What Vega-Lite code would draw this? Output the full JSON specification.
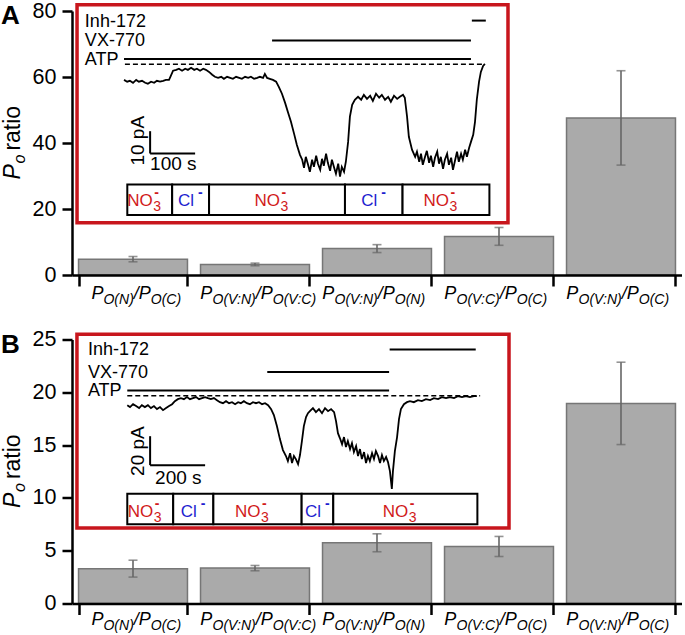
{
"$schema": "https://vega.github.io/schema/vega-lite/v6.json",
"padding": {"left": 0, "top": 0, "right": 0, "bottom": 0},
"spacing": 21.5,
"config": {"font": "Liberation Sans", "view": {"stroke": null}, "axis": {"grid": false}},
"datasets": {
"barsA": [
{"cat": "N/C", "s1": "O(N)", "s2": "O(C)", "v": 4.8, "e": 0.8},
{"cat": "VN/VC", "s1": "O(V:N)", "s2": "O(V:C)", "v": 3.2, "e": 0.4},
{"cat": "VN/N", "s1": "O(V:N)", "s2": "O(N)", "v": 8.0, "e": 1.2},
{"cat": "VC/C", "s1": "O(V:C)", "s2": "O(C)", "v": 11.7, "e": 2.7},
{"cat": "VN/C", "s1": "O(V:N)", "s2": "O(C)", "v": 47.6, "e": 14.3}],
"barsB": [
{"cat": "N/C", "s1": "O(N)", "s2": "O(C)", "v": 3.3, "e": 0.8},
{"cat": "VN/VC", "s1": "O(V:N)", "s2": "O(V:C)", "v": 3.35, "e": 0.25},
{"cat": "VN/N", "s1": "O(V:N)", "s2": "O(N)", "v": 5.75, "e": 0.85},
{"cat": "VC/C", "s1": "O(V:C)", "s2": "O(C)", "v": 5.4, "e": 0.95},
{"cat": "VN/C", "s1": "O(V:N)", "s2": "O(C)", "v": 18.95, "e": 3.9}],
"drugsA": [
{"drug": "ATP", "t": 0, "t2": 771, "I": 2.4},
{"drug": "VX-770", "t": 329, "t2": 771, "I": 10.7},
{"drug": "Inh-172", "t": 773, "t2": 804, "I": 19.6}],
"drugsB": [
{"drug": "ATP", "t": 0, "t2": 952, "I": 3.6},
{"drug": "VX-770", "t": 509, "t2": 952, "I": 16.4},
{"drug": "Inh-172", "t": 954, "t2": 1267, "I": 31.9}],
"scaleA": [{"t": 58, "t2": 58, "I": -30, "I2": -40}, {"t": 58, "t2": 158, "I": -40, "I2": -40}],
"scaleB": [{"t": 83, "t2": 83, "I": -28, "I2": -48}, {"t": 83, "t2": 283, "I": -48, "I2": -48}],
"boxesA": [
{"ion": "NO3", "t": 7.3, "t2": 107, "mid": 57, "I": -53.9, "I2": -67.6, "Ic": -60.75},
{"ion": "Cl", "t": 107, "t2": 189, "mid": 148, "I": -53.9, "I2": -67.6, "Ic": -60.75},
{"ion": "NO3", "t": 189, "t2": 491, "mid": 340, "I": -53.9, "I2": -67.6, "Ic": -60.75},
{"ion": "Cl", "t": 491, "t2": 619, "mid": 555, "I": -53.9, "I2": -67.6, "Ic": -60.75},
{"ion": "NO3", "t": 619, "t2": 812, "mid": 715.5, "I": -53.9, "I2": -67.6, "Ic": -60.75}],
"boxesB": [
{"ion": "NO3", "t": 0, "t2": 167, "mid": 83.5, "I": -67.7, "I2": -88.8, "Ic": -78.25},
{"ion": "Cl", "t": 167, "t2": 313, "mid": 240, "I": -67.7, "I2": -88.8, "Ic": -78.25},
{"ion": "NO3", "t": 313, "t2": 634, "mid": 473.5, "I": -67.7, "I2": -88.8, "Ic": -78.25},
{"ion": "Cl", "t": 634, "t2": 749, "mid": 691.5, "I": -67.7, "I2": -88.8, "Ic": -78.25},
{"ion": "NO3", "t": 749, "t2": 1273, "mid": 1011, "I": -67.7, "I2": -88.8, "Ic": -78.25}],
"traceA": [
{"t":0,"I":-7.0},{"t":7,"I":-7.8},{"t":13,"I":-7.4},{"t":20,"I":-8.3},{"t":27,"I":-7.0},{"t":33,"I":-7.8},{"t":40,"I":-7.4},{"t":47,"I":-8.3},{"t":53,"I":-8.7},{"t":60,"I":-7.8},{"t":67,"I":-8.3},{"t":73,"I":-7.4},{"t":80,"I":-7.8},{"t":87,"I":-7.4},{"t":93,"I":-7.0},{"t":100,"I":-7.0},{"t":104,"I":-5.2},{"t":109,"I":-2.9},{"t":116,"I":-2.5},{"t":122,"I":-2.0},{"t":129,"I":-2.9},{"t":136,"I":-2.0},{"t":142,"I":-2.5},{"t":149,"I":-1.6},{"t":156,"I":-2.5},{"t":162,"I":-2.0},{"t":169,"I":-2.9},{"t":176,"I":-2.0},{"t":182,"I":-2.5},{"t":189,"I":-3.4},{"t":196,"I":-4.7},{"t":202,"I":-5.6},{"t":209,"I":-6.1},{"t":216,"I":-5.6},{"t":222,"I":-6.5},{"t":229,"I":-5.6},{"t":236,"I":-6.1},{"t":242,"I":-6.5},{"t":249,"I":-5.6},{"t":256,"I":-6.1},{"t":262,"I":-6.5},{"t":269,"I":-5.6},{"t":276,"I":-6.1},{"t":282,"I":-5.6},{"t":289,"I":-6.5},{"t":296,"I":-6.1},{"t":302,"I":-5.6},{"t":309,"I":-6.1},{"t":313,"I":-4.3},{"t":318,"I":-6.1},{"t":324,"I":-6.5},{"t":331,"I":-7.0},{"t":338,"I":-7.8},{"t":344,"I":-10.1},{"t":351,"I":-13.2},{"t":358,"I":-17.3},{"t":364,"I":-21.3},{"t":371,"I":-25.8},{"t":378,"I":-31.2},{"t":384,"I":-36.1},{"t":391,"I":-40.6},{"t":396,"I":-42.8},{"t":400,"I":-46.4},{"t":404,"I":-41.5},{"t":409,"I":-45.1},{"t":413,"I":-48.2},{"t":418,"I":-42.8},{"t":422,"I":-46.0},{"t":427,"I":-41.0},{"t":431,"I":-44.6},{"t":436,"I":-47.3},{"t":440,"I":-42.4},{"t":444,"I":-45.5},{"t":449,"I":-40.1},{"t":453,"I":-44.2},{"t":458,"I":-47.8},{"t":462,"I":-42.8},{"t":467,"I":-46.4},{"t":471,"I":-49.1},{"t":476,"I":-44.6},{"t":480,"I":-50.4},{"t":484,"I":-46.0},{"t":489,"I":-48.2},{"t":493,"I":-43.7},{"t":498,"I":-34.8},{"t":502,"I":-23.5},{"t":507,"I":-18.2},{"t":513,"I":-15.9},{"t":520,"I":-14.6},{"t":527,"I":-15.9},{"t":533,"I":-13.7},{"t":540,"I":-15.5},{"t":547,"I":-14.1},{"t":553,"I":-16.4},{"t":560,"I":-13.2},{"t":567,"I":-15.0},{"t":573,"I":-13.7},{"t":580,"I":-15.9},{"t":587,"I":-14.6},{"t":593,"I":-16.8},{"t":600,"I":-14.1},{"t":607,"I":-15.5},{"t":613,"I":-14.6},{"t":620,"I":-13.7},{"t":624,"I":-15.0},{"t":629,"I":-23.5},{"t":633,"I":-32.5},{"t":640,"I":-38.3},{"t":647,"I":-41.5},{"t":651,"I":-39.2},{"t":656,"I":-43.7},{"t":660,"I":-40.1},{"t":664,"I":-45.1},{"t":669,"I":-41.5},{"t":673,"I":-38.8},{"t":678,"I":-44.2},{"t":682,"I":-41.0},{"t":687,"I":-46.0},{"t":691,"I":-41.9},{"t":696,"I":-39.2},{"t":700,"I":-44.6},{"t":704,"I":-41.5},{"t":709,"I":-46.9},{"t":713,"I":-42.8},{"t":718,"I":-40.1},{"t":722,"I":-45.1},{"t":727,"I":-41.9},{"t":731,"I":-47.3},{"t":736,"I":-42.8},{"t":740,"I":-39.2},{"t":744,"I":-43.7},{"t":749,"I":-40.1},{"t":753,"I":-42.8},{"t":758,"I":-38.3},{"t":762,"I":-41.5},{"t":767,"I":-37.4},{"t":771,"I":-34.8},{"t":776,"I":-31.6},{"t":780,"I":-25.8},{"t":784,"I":-15.9},{"t":789,"I":-7.8},{"t":793,"I":-3.4},{"t":798,"I":-0.7},{"t":802,"I":0.2}],
"traceB": [
{"t":0,"I":-6.6},{"t":10,"I":-7.9},{"t":21,"I":-5.9},{"t":32,"I":-7.2},{"t":43,"I":-8.6},{"t":53,"I":-6.6},{"t":64,"I":-7.9},{"t":75,"I":-6.6},{"t":86,"I":-8.6},{"t":97,"I":-7.2},{"t":108,"I":-9.3},{"t":119,"I":-7.9},{"t":130,"I":-10.0},{"t":141,"I":-8.6},{"t":152,"I":-7.2},{"t":163,"I":-5.9},{"t":173,"I":-3.8},{"t":184,"I":-2.4},{"t":195,"I":-1.7},{"t":206,"I":-2.4},{"t":217,"I":-1.0},{"t":228,"I":-2.4},{"t":239,"I":-1.7},{"t":250,"I":-1.0},{"t":261,"I":-2.4},{"t":272,"I":-1.7},{"t":283,"I":-1.0},{"t":293,"I":-1.7},{"t":304,"I":-2.4},{"t":315,"I":-1.7},{"t":326,"I":-3.1},{"t":337,"I":-4.5},{"t":348,"I":-5.2},{"t":359,"I":-3.8},{"t":370,"I":-5.2},{"t":381,"I":-4.5},{"t":392,"I":-5.9},{"t":403,"I":-4.5},{"t":413,"I":-5.2},{"t":424,"I":-3.8},{"t":435,"I":-5.2},{"t":446,"I":-5.9},{"t":457,"I":-4.5},{"t":468,"I":-5.2},{"t":479,"I":-4.5},{"t":490,"I":-5.9},{"t":501,"I":-5.2},{"t":512,"I":-6.6},{"t":523,"I":-9.3},{"t":533,"I":-13.4},{"t":544,"I":-21.0},{"t":555,"I":-30.0},{"t":566,"I":-37.6},{"t":577,"I":-41.7},{"t":584,"I":-45.2},{"t":592,"I":-39.7},{"t":599,"I":-46.6},{"t":606,"I":-41.7},{"t":613,"I":-43.8},{"t":621,"I":-47.3},{"t":628,"I":-41.0},{"t":635,"I":-31.4},{"t":642,"I":-21.0},{"t":650,"I":-14.8},{"t":657,"I":-12.1},{"t":664,"I":-10.7},{"t":675,"I":-8.6},{"t":686,"I":-11.4},{"t":697,"I":-9.3},{"t":708,"I":-12.1},{"t":719,"I":-8.6},{"t":730,"I":-10.7},{"t":741,"I":-9.3},{"t":752,"I":-11.4},{"t":759,"I":-17.6},{"t":766,"I":-25.9},{"t":773,"I":-29.3},{"t":781,"I":-33.5},{"t":788,"I":-28.6},{"t":795,"I":-35.5},{"t":802,"I":-31.4},{"t":810,"I":-36.9},{"t":817,"I":-32.8},{"t":824,"I":-39.0},{"t":832,"I":-34.8},{"t":839,"I":-41.7},{"t":846,"I":-36.9},{"t":853,"I":-43.8},{"t":861,"I":-39.0},{"t":868,"I":-46.6},{"t":875,"I":-41.7},{"t":882,"I":-45.2},{"t":890,"I":-39.7},{"t":897,"I":-43.8},{"t":904,"I":-38.3},{"t":912,"I":-41.7},{"t":919,"I":-46.6},{"t":926,"I":-41.0},{"t":933,"I":-45.2},{"t":941,"I":-42.4},{"t":948,"I":-45.9},{"t":955,"I":-52.1},{"t":962,"I":-64.5},{"t":966,"I":-52.1},{"t":973,"I":-38.3},{"t":981,"I":-28.6},{"t":988,"I":-16.2},{"t":995,"I":-9.3},{"t":1006,"I":-5.9},{"t":1017,"I":-4.5},{"t":1028,"I":-3.8},{"t":1042,"I":-4.5},{"t":1057,"I":-3.1},{"t":1071,"I":-3.8},{"t":1086,"I":-2.4},{"t":1101,"I":-3.1},{"t":1115,"I":-1.7},{"t":1130,"I":-2.4},{"t":1144,"I":-1.0},{"t":1159,"I":-1.7},{"t":1173,"I":-1.0},{"t":1188,"I":-1.7},{"t":1202,"I":-0.3},{"t":1217,"I":-1.0},{"t":1231,"I":-0.3},{"t":1246,"I":-1.0},{"t":1260,"I":-0.3},{"t":1271,"I":-0.3}]
},
"vconcat": [
{
"width": 610, "height": 264,
"resolve": {"scale": {"x": "independent", "y": "independent"}},
"layer": [
{
"data": {"name": "barsA"},
"encoding": {"x": {"field": "cat", "type": "nominal", "title": null,
  "scale": {"domain": ["N/C", "VN/VC", "VN/N", "VC/C", "VN/C"], "paddingInner": 0.107, "paddingOuter": 0.0535},
  "axis": {"labels": false, "tickBand": "extent", "tickSize": 11, "tickWidth": 2.5, "tickColor": "black", "domainColor": "black", "domainWidth": 2.5, "zindex": 1}}},
"layer": [
{"mark": {"type": "bar", "fill": "#aaaaaa", "stroke": "#767676", "strokeWidth": 1.5},
 "encoding": {"y": {"field": "v", "type": "quantitative", "title": null, "scale": {"domain": [0, 80], "nice": false},
  "axis": {"values": [0, 20, 40, 60, 80], "tickSize": 10, "tickWidth": 2.5, "tickColor": "black", "domainColor": "black", "domainWidth": 2.5, "labelFontSize": 21.5, "labelColor": "black", "labelPadding": 6, "zindex": 1}}}},
{"mark": {"type": "errorbar", "color": "#666666", "thickness": 1.6, "ticks": {"size": 9}},
 "encoding": {"y": {"field": "v", "type": "quantitative", "title": null}, "yError": {"field": "e"}}},
{"transform": [{"filter": "datum.cat === 'N/C'"}],
 "mark": {"type": "text", "text": "P", "align": "right", "baseline": "alphabetic", "fontSize": 18, "fontStyle": "italic", "dx": -29.5, "dy": 24},
 "encoding": {"y": {"datum": 0}}},
{"transform": [{"filter": "datum.cat !== 'N/C'"}],
 "mark": {"type": "text", "text": "P", "align": "right", "baseline": "alphabetic", "fontSize": 18, "fontStyle": "italic", "dx": -42.8, "dy": 24},
 "encoding": {"y": {"datum": 0}}},
{"mark": {"type": "text", "align": "right", "baseline": "alphabetic", "fontSize": 14, "fontStyle": "italic", "dx": 0.8, "dy": 28.5},
 "encoding": {"y": {"datum": 0}, "text": {"field": "s1"}}},
{"mark": {"type": "text", "text": "/P", "align": "left", "baseline": "alphabetic", "fontSize": 18, "fontStyle": "italic", "dx": 0.8, "dy": 24},
 "encoding": {"y": {"datum": 0}}},
{"mark": {"type": "text", "align": "left", "baseline": "alphabetic", "fontSize": 14, "fontStyle": "italic", "dx": 17.8, "dy": 28.5},
 "encoding": {"y": {"datum": 0}, "text": {"field": "s2"}}},
{"data": {"values": [{}]},
 "mark": {"type": "text", "text": "P", "angle": 270, "align": "right", "baseline": "alphabetic", "fontSize": 23, "fontStyle": "italic", "dx": 0, "dy": -113.5},
 "encoding": {"x": {"datum": "N/C"}, "y": {"datum": 33.6}}},
{"data": {"values": [{}]},
 "mark": {"type": "text", "text": "o", "angle": 270, "align": "left", "baseline": "alphabetic", "fontSize": 16, "fontStyle": "italic", "dx": 0.5, "dy": -108.5},
 "encoding": {"x": {"datum": "N/C"}, "y": {"datum": 33.6}}},
{"data": {"values": [{}]},
 "mark": {"type": "text", "text": "ratio", "angle": 270, "align": "left", "baseline": "alphabetic", "fontSize": 23, "dx": 13.5, "dy": -113.5},
 "encoding": {"x": {"datum": "N/C"}, "y": {"datum": 33.6}}},
{"data": {"values": [{}]},
 "mark": {"type": "text", "text": "A", "align": "left", "baseline": "alphabetic", "fontSize": 26, "fontWeight": "bold", "dx": -132, "dy": 13},
 "encoding": {"x": {"datum": "N/C"}, "y": {"datum": 80}}}
]
},
{
"encoding": {
 "x": {"field": "t", "type": "quantitative", "scale": {"domain": [-115.6, 1240], "nice": false, "zero": false}, "axis": null},
 "y": {"field": "I", "type": "quantitative", "scale": {"domain": [-94.5, 23.9], "nice": false, "zero": false}, "axis": null}},
"layer": [
{"data": {"values": [{"t": -104.4, "t2": 853.3, "I": 26.7, "I2": -71.1}]},
 "mark": {"type": "rect", "fill": "white", "stroke": "#c8161d", "strokeWidth": 3.5},
 "encoding": {"x2": {"field": "t2"}, "y2": {"field": "I2"}}},
{"data": {"values": [{"t": 2, "t2": 802, "I": 0}]},
 "mark": {"type": "rule", "color": "black", "strokeWidth": 1.5, "strokeDash": [5, 3]},
 "encoding": {"x2": {"field": "t2"}}},
{"data": {"name": "drugsA"},
 "mark": {"type": "rule", "color": "black", "strokeWidth": 2},
 "encoding": {"x2": {"field": "t2"}}},
{"data": {"name": "drugsA"},
 "mark": {"type": "text", "align": "left", "baseline": "middle", "fontSize": 18, "dy": 1},
 "encoding": {"x": {"datum": -87, "type": "quantitative"}, "text": {"field": "drug"}}},
{"data": {"name": "traceA"},
 "mark": {"type": "line", "color": "black", "strokeWidth": 1.8}},
{"data": {"name": "scaleA"},
 "mark": {"type": "rule", "color": "black", "strokeWidth": 2},
 "encoding": {"x2": {"field": "t2"}, "y2": {"field": "I2"}}},
{"data": {"values": [{"t": 53.3, "I": -34.3}]},
 "mark": {"type": "text", "text": "10 pA", "angle": 270, "align": "center", "baseline": "bottom", "fontSize": 19}},
{"data": {"values": [{"t": 109.6, "I": -47.4}]},
 "mark": {"type": "text", "text": "100 s", "align": "center", "baseline": "alphabetic", "fontSize": 19}},
{"data": {"name": "boxesA"},
 "mark": {"type": "rect", "fill": "white", "stroke": "black", "strokeWidth": 2},
 "encoding": {"x2": {"field": "t2"}, "y2": {"field": "I2"}}},
{"data": {"name": "boxesA"}, "transform": [{"filter": "datum.ion === 'NO3'"}],
 "mark": {"type": "text", "text": "NO", "align": "right", "baseline": "alphabetic", "fontSize": 17, "color": "#d11a1a", "dx": 3, "dy": 6.5},
 "encoding": {"x": {"field": "mid", "type": "quantitative"}, "y": {"field": "Ic", "type": "quantitative"}}},
{"data": {"name": "boxesA"}, "transform": [{"filter": "datum.ion === 'NO3'"}],
 "mark": {"type": "text", "text": "3", "align": "left", "baseline": "alphabetic", "fontSize": 14, "color": "#d11a1a", "dx": 3.5, "dy": 11.5},
 "encoding": {"x": {"field": "mid", "type": "quantitative"}, "y": {"field": "Ic", "type": "quantitative"}}},
{"data": {"name": "boxesA"}, "transform": [{"filter": "datum.ion === 'NO3'"}],
 "mark": {"type": "text", "text": "-", "align": "left", "baseline": "alphabetic", "fontSize": 14, "fontWeight": "bold", "color": "#d11a1a", "dx": 4.5, "dy": -3},
 "encoding": {"x": {"field": "mid", "type": "quantitative"}, "y": {"field": "Ic", "type": "quantitative"}}},
{"data": {"name": "boxesA"}, "transform": [{"filter": "datum.ion === 'Cl'"}],
 "mark": {"type": "text", "text": "Cl", "align": "right", "baseline": "alphabetic", "fontSize": 17, "color": "#1e1ecf", "dx": 3.5, "dy": 6.5},
 "encoding": {"x": {"field": "mid", "type": "quantitative"}, "y": {"field": "Ic", "type": "quantitative"}}},
{"data": {"name": "boxesA"}, "transform": [{"filter": "datum.ion === 'Cl'"}],
 "mark": {"type": "text", "text": "-", "align": "left", "baseline": "alphabetic", "fontSize": 14, "fontWeight": "bold", "color": "#1e1ecf", "dx": 7.5, "dy": -3},
 "encoding": {"x": {"field": "mid", "type": "quantitative"}, "y": {"field": "Ic", "type": "quantitative"}}}
]
}
]
},
{
"width": 610, "height": 264,
"resolve": {"scale": {"x": "independent", "y": "independent"}},
"layer": [
{
"data": {"name": "barsB"},
"encoding": {"x": {"field": "cat", "type": "nominal", "title": null,
  "scale": {"domain": ["N/C", "VN/VC", "VN/N", "VC/C", "VN/C"], "paddingInner": 0.107, "paddingOuter": 0.0535},
  "axis": {"labels": false, "tickBand": "extent", "tickSize": 11, "tickWidth": 2.5, "tickColor": "black", "domainColor": "black", "domainWidth": 2.5, "zindex": 1}}},
"layer": [
{"mark": {"type": "bar", "fill": "#aaaaaa", "stroke": "#767676", "strokeWidth": 1.5},
 "encoding": {"y": {"field": "v", "type": "quantitative", "title": null, "scale": {"domain": [0, 25], "nice": false},
  "axis": {"values": [0, 5, 10, 15, 20, 25], "tickSize": 10, "tickWidth": 2.5, "tickColor": "black", "domainColor": "black", "domainWidth": 2.5, "labelFontSize": 21.5, "labelColor": "black", "labelPadding": 6, "zindex": 1}}}},
{"mark": {"type": "errorbar", "color": "#666666", "thickness": 1.6, "ticks": {"size": 9}},
 "encoding": {"y": {"field": "v", "type": "quantitative", "title": null}, "yError": {"field": "e"}}},
{"transform": [{"filter": "datum.cat === 'N/C'"}],
 "mark": {"type": "text", "text": "P", "align": "right", "baseline": "alphabetic", "fontSize": 18, "fontStyle": "italic", "dx": -29.5, "dy": 21},
 "encoding": {"y": {"datum": 0}}},
{"transform": [{"filter": "datum.cat !== 'N/C'"}],
 "mark": {"type": "text", "text": "P", "align": "right", "baseline": "alphabetic", "fontSize": 18, "fontStyle": "italic", "dx": -42.8, "dy": 21},
 "encoding": {"y": {"datum": 0}}},
{"mark": {"type": "text", "align": "right", "baseline": "alphabetic", "fontSize": 14, "fontStyle": "italic", "dx": 0.8, "dy": 26},
 "encoding": {"y": {"datum": 0}, "text": {"field": "s1"}}},
{"mark": {"type": "text", "text": "/P", "align": "left", "baseline": "alphabetic", "fontSize": 18, "fontStyle": "italic", "dx": 0.8, "dy": 21},
 "encoding": {"y": {"datum": 0}}},
{"mark": {"type": "text", "align": "left", "baseline": "alphabetic", "fontSize": 14, "fontStyle": "italic", "dx": 17.8, "dy": 26},
 "encoding": {"y": {"datum": 0}, "text": {"field": "s2"}}},
{"data": {"values": [{}]},
 "mark": {"type": "text", "text": "P", "angle": 270, "align": "right", "baseline": "alphabetic", "fontSize": 23, "fontStyle": "italic", "dx": 0, "dy": -113.5},
 "encoding": {"x": {"datum": "N/C"}, "y": {"datum": 10.5}}},
{"data": {"values": [{}]},
 "mark": {"type": "text", "text": "o", "angle": 270, "align": "left", "baseline": "alphabetic", "fontSize": 16, "fontStyle": "italic", "dx": 0.5, "dy": -108.5},
 "encoding": {"x": {"datum": "N/C"}, "y": {"datum": 10.5}}},
{"data": {"values": [{}]},
 "mark": {"type": "text", "text": "ratio", "angle": 270, "align": "left", "baseline": "alphabetic", "fontSize": 23, "dx": 13.5, "dy": -113.5},
 "encoding": {"x": {"datum": "N/C"}, "y": {"datum": 10.5}}},
{"data": {"values": [{}]},
 "mark": {"type": "text", "text": "B", "align": "left", "baseline": "alphabetic", "fontSize": 26, "fontWeight": "bold", "dx": -132, "dy": 13},
 "encoding": {"x": {"datum": "N/C"}, "y": {"datum": 25}}}
]
},
{
"encoding": {
 "x": {"field": "t", "type": "quantitative", "scale": {"domain": [-201, 2017], "nice": false, "zero": false}, "axis": null},
 "y": {"field": "I", "type": "quantitative", "scale": {"domain": [-143.6, 38.8], "nice": false, "zero": false}, "axis": null}},
"layer": [
{"data": {"values": [{"t": -183, "t2": 1388, "I": 42.4, "I2": -91.4}]},
 "mark": {"type": "rect", "fill": "white", "stroke": "#c8161d", "strokeWidth": 3.5},
 "encoding": {"x2": {"field": "t2"}, "y2": {"field": "I2"}}},
{"data": {"values": [{"t": 0, "t2": 1283, "I": 0}]},
 "mark": {"type": "rule", "color": "black", "strokeWidth": 1.5, "strokeDash": [5, 3]},
 "encoding": {"x2": {"field": "t2"}}},
{"data": {"name": "drugsB"},
 "mark": {"type": "rule", "color": "black", "strokeWidth": 2},
 "encoding": {"x2": {"field": "t2"}}},
{"data": {"name": "drugsB"},
 "mark": {"type": "text", "align": "left", "baseline": "middle", "fontSize": 18, "dy": 1},
 "encoding": {"x": {"datum": -143, "type": "quantitative"}, "text": {"field": "drug"}}},
{"data": {"name": "traceB"},
 "mark": {"type": "line", "color": "black", "strokeWidth": 1.8}},
{"data": {"name": "scaleB"},
 "mark": {"type": "rule", "color": "black", "strokeWidth": 2},
 "encoding": {"x2": {"field": "t2"}, "y2": {"field": "I2"}}},
{"data": {"values": [{"t": 75, "I": -38.3}]},
 "mark": {"type": "text", "text": "20 pA", "angle": 270, "align": "center", "baseline": "bottom", "fontSize": 19}},
{"data": {"values": [{"t": 185.5, "I": -60.8}]},
 "mark": {"type": "text", "text": "200 s", "align": "center", "baseline": "alphabetic", "fontSize": 19}},
{"data": {"name": "boxesB"},
 "mark": {"type": "rect", "fill": "white", "stroke": "black", "strokeWidth": 2},
 "encoding": {"x2": {"field": "t2"}, "y2": {"field": "I2"}}},
{"data": {"name": "boxesB"}, "transform": [{"filter": "datum.ion === 'NO3'"}],
 "mark": {"type": "text", "text": "NO", "align": "right", "baseline": "alphabetic", "fontSize": 17, "color": "#d11a1a", "dx": 3, "dy": 8.5},
 "encoding": {"x": {"field": "mid", "type": "quantitative"}, "y": {"field": "Ic", "type": "quantitative"}}},
{"data": {"name": "boxesB"}, "transform": [{"filter": "datum.ion === 'NO3'"}],
 "mark": {"type": "text", "text": "3", "align": "left", "baseline": "alphabetic", "fontSize": 14, "color": "#d11a1a", "dx": 3.5, "dy": 13.5},
 "encoding": {"x": {"field": "mid", "type": "quantitative"}, "y": {"field": "Ic", "type": "quantitative"}}},
{"data": {"name": "boxesB"}, "transform": [{"filter": "datum.ion === 'NO3'"}],
 "mark": {"type": "text", "text": "-", "align": "left", "baseline": "alphabetic", "fontSize": 14, "fontWeight": "bold", "color": "#d11a1a", "dx": 4.5, "dy": -1},
 "encoding": {"x": {"field": "mid", "type": "quantitative"}, "y": {"field": "Ic", "type": "quantitative"}}},
{"data": {"name": "boxesB"}, "transform": [{"filter": "datum.ion === 'Cl'"}],
 "mark": {"type": "text", "text": "Cl", "align": "right", "baseline": "alphabetic", "fontSize": 17, "color": "#1e1ecf", "dx": 3.5, "dy": 8.5},
 "encoding": {"x": {"field": "mid", "type": "quantitative"}, "y": {"field": "Ic", "type": "quantitative"}}},
{"data": {"name": "boxesB"}, "transform": [{"filter": "datum.ion === 'Cl'"}],
 "mark": {"type": "text", "text": "-", "align": "left", "baseline": "alphabetic", "fontSize": 14, "fontWeight": "bold", "color": "#1e1ecf", "dx": 7.5, "dy": -1},
 "encoding": {"x": {"field": "mid", "type": "quantitative"}, "y": {"field": "Ic", "type": "quantitative"}}}
]
}
]
}
]
}
